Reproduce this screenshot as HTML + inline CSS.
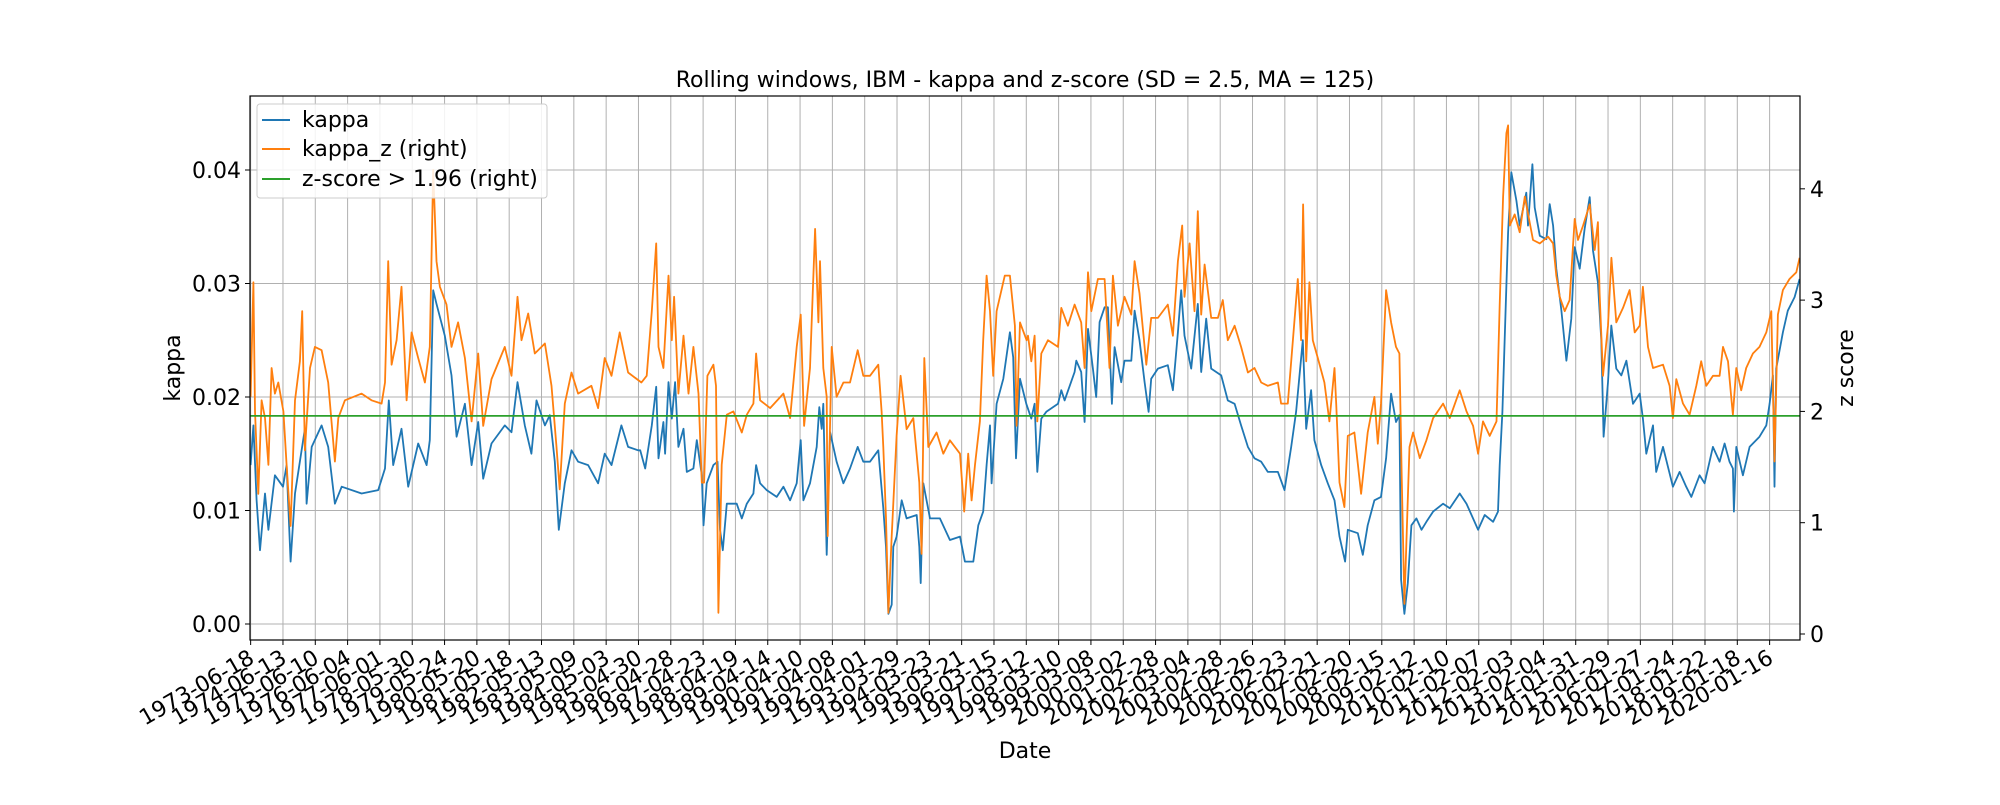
<!DOCTYPE html>
<html><head><meta charset="utf-8"><style>
body{margin:0;background:#fff;}
svg text{font-family:"DejaVu Sans","Liberation Sans",sans-serif;fill:#000;}
</style></head><body>
<svg id="chart" width="2000" height="800" xmlns="http://www.w3.org/2000/svg">
<rect width="2000" height="800" fill="#fff"/>
<g id="grid"></g>
<g id="series"></g>
<g id="axes"></g>
<text x="1025" y="87" font-size="22" text-anchor="middle">Rolling windows, IBM - kappa and z-score (SD = 2.5, MA = 125)</text>
<text x="1025" y="758" font-size="22" text-anchor="middle">Date</text>
<text x="0" y="0" font-size="22" text-anchor="middle" transform="translate(180,368) rotate(-90)">kappa</text>
<text x="0" y="0" font-size="22" text-anchor="middle" transform="translate(1853,368) rotate(-90)">z score</text>
<g>
<rect x="257" y="104" width="290" height="94" rx="3" fill="#fff" fill-opacity="0.85" stroke="#ccc" stroke-width="1"/>
<line x1="262" y1="120" x2="290" y2="120" stroke="#1f77b4" stroke-width="2"/>
<text x="302" y="127" font-size="22">kappa</text>
<line x1="262" y1="149" x2="290" y2="149" stroke="#ff7f0e" stroke-width="2"/>
<text x="302" y="156" font-size="22">kappa_z (right)</text>
<line x1="262" y1="179" x2="290" y2="179" stroke="#2ca02c" stroke-width="2"/>
<text x="302" y="186" font-size="22">z-score &gt; 1.96 (right)</text>
</g>
</svg>
<script>
const tickLabels=["1973-06-18","1974-06-13","1975-06-10","1976-06-04","1977-06-01","1978-05-30","1979-05-24","1980-05-20","1981-05-18","1982-05-13","1983-05-09","1984-05-03","1985-04-30","1986-04-28","1987-04-23","1988-04-19","1989-04-14","1990-04-10","1991-04-08","1992-04-01","1993-03-29","1994-03-23","1995-03-21","1996-03-15","1997-03-12","1998-03-10","1999-03-08","2000-03-02","2001-02-28","2002-03-04","2003-02-28","2004-02-26","2005-02-23","2006-02-21","2007-02-20","2008-02-15","2009-02-12","2010-02-10","2011-02-07","2012-02-03","2013-02-04","2014-01-31","2015-01-29","2016-01-27","2017-01-24","2018-01-22","2019-01-18","2020-01-16"];
const leftTicks=[0,0.01,0.02,0.03,0.04];
const leftTickLabels=["0.00","0.01","0.02","0.03","0.04"];
const rightTicks=[0,1,2,3,4];
const threshold=1.96;
const kappaIdx=[0,21,46,72,111,137,188,250,278,309,343,420,433,472,549,600,652,704,858,987,1039,1069,1103,1167,1219,1296,1361,1386,1412,1438,1502,1554,1593,1657,1709,1760,1799,1863,1966,2018,2064,2121,2172,2211,2276,2314,2353,2384,2430,2482,2533,2610,2688,2739,2791,2868,2920,2997,
3013,3052,3103,3137,3155,3193,3206,3232,3258,3283,3309,3348,3374,3425,3451,3490,3503,3528,3580,3611,3631,3652,3683,3760,3799,3838,3889,3910,3941,3992,4069,4121,4173,4224,4255,4276,4327,4379,4399,4417,4430,4456,4482,4533,4585,4636,4696,4739,4791,4855,4894,4915,4933,4959,4971,4997,5036,5074,5152,5172,5183,5203,5255,5332,5409,5487,5525,5590,5629,5667,5693,5719,5732,5770,5822,5873,5899,5920,5951,
6000,6039,6064,6085,6116,6155,6245,6271,6296,6374,6387,6425,6451,6477,6515,6541,6567,6606,6631,6662,6683,6734,6760,6812,6838,6876,6915,6946,6966,7018,7095,7134,7173,7198,7224,7276,7327,7353,7392,7430,7508,7559,7611,7662,7714,7765,7817,7868,7946,7997,8049,8087,8139,8165,8203,8229,8281,8332,8384,8423,8466,8487,8564,8603,8641,8693,8744,8783,8822,8860,8886,8899,8925,8951,
8979,9018,9057,9095,9147,9224,9276,9353,9405,9495,9546,9611,9649,9662,9683,9709,9727,9752,9791,9817,9868,9881,9915,9933,9972,10023,10049,10075,10100,10139,10178,10216,10242,10281,10319,10358,10384,10422,10448,10466,10500,10525,10564,10603,10642,10693,10745,10770,10796,10848,10873,10925,11002,11054,11105,11144,11208,11247,11311,11363,11402,11440,11466,11474,11492,11543,11595,11672,11724,11750,11775,11788,11801,11853,11891,11943,11982];
const kappaVal=[0.0140,0.0175,0.0109,0.0065,0.0115,0.0083,0.0131,0.0121,0.0140,0.0055,0.0115,0.0172,0.0106,0.0156,0.0175,0.0156,0.0106,0.0121,0.0115,0.0118,0.0137,0.0197,0.0140,0.0172,0.0121,0.0159,0.0140,0.0162,0.0294,0.0282,0.0254,0.0219,0.0165,0.0194,0.0140,0.0178,0.0128,0.0159,0.0175,0.0169,0.0213,0.0175,0.0150,0.0197,0.0175,0.0184,0.0143,0.0083,0.0124,0.0153,0.0143,0.0140,0.0124,0.0150,0.0140,0.0175,0.0156,0.0153,
0.0153,0.0137,0.0175,0.0209,0.0146,0.0178,0.0150,0.0213,0.0181,0.0213,0.0156,0.0172,0.0134,0.0137,0.0162,0.0131,0.0087,0.0124,0.0140,0.0143,0.0083,0.0065,0.0106,0.0106,0.0093,0.0106,0.0115,0.0140,0.0124,0.0118,0.0112,0.0121,0.0109,0.0124,0.0162,0.0109,0.0124,0.0156,0.0191,0.0172,0.0194,0.0061,0.0169,0.0143,0.0124,0.0137,0.0156,0.0143,0.0143,0.0153,0.0102,0.0068,0.0009,0.0017,0.0068,0.0077,0.0109,0.0093,0.0096,0.0068,0.0036,0.0124,0.0093,0.0093,0.0074,0.0077,0.0055,0.0055,0.0087,0.0099,0.0140,0.0175,0.0124,0.0194,0.0216,0.0257,0.0235,0.0146,0.0216,
0.0194,0.0181,0.0194,0.0134,0.0181,0.0187,0.0194,0.0206,0.0197,0.0222,0.0232,0.0222,0.0178,0.0260,0.0225,0.0200,0.0266,0.0279,0.0279,0.0194,0.0244,0.0213,0.0232,0.0232,0.0276,0.0250,0.0213,0.0187,0.0216,0.0225,0.0228,0.0206,0.0257,0.0294,0.0254,0.0225,0.0282,0.0222,0.0269,0.0225,0.0219,0.0197,0.0194,0.0175,0.0156,0.0146,0.0143,0.0134,0.0134,0.0118,0.0156,0.0187,0.0250,0.0172,0.0206,0.0162,0.0140,0.0124,0.0109,0.0077,0.0055,0.0083,0.0080,0.0061,0.0087,0.0109,0.0112,0.0146,0.0203,0.0178,0.0184,0.0039,0.0009,0.0036,
0.0087,0.0093,0.0083,0.0090,0.0099,0.0106,0.0102,0.0115,0.0106,0.0083,0.0096,0.0090,0.0099,0.0140,0.0187,0.0282,0.0345,0.0398,0.0373,0.0351,0.0380,0.0351,0.0405,0.0367,0.0342,0.0339,0.0370,0.0351,0.0313,0.0276,0.0232,0.0269,0.0332,0.0313,0.0348,0.0376,0.0329,0.0301,0.0250,0.0165,0.0213,0.0263,0.0225,0.0219,0.0232,0.0194,0.0203,0.0181,0.0150,0.0175,0.0134,0.0156,0.0121,0.0134,0.0121,0.0112,0.0131,0.0124,0.0156,0.0143,0.0159,0.0143,0.0137,0.0099,0.0156,0.0131,0.0156,0.0165,0.0175,0.0194,0.0219,0.0121,0.0225,0.0257,0.0276,0.0288,0.0304];
const zIdx=[0,21,34,59,85,111,137,162,188,214,253,278,309,343,381,399,420,459,497,549,600,652,678,729,858,935,1013,1039,1064,1090,1129,1167,1206,1245,1296,1348,1386,1412,1438,1464,1515,1554,1605,1657,1709,1760,1799,1863,1966,2018,2064,2095,2147,2198,2276,2327,2366,2391,2430,2482,2533,2636,2688,2739,2791,2855,2920,3023,
3064,3103,3137,3155,3193,3232,3258,3276,3309,3348,3387,3425,3464,3490,3508,3533,3580,3600,3618,3644,3683,3734,3799,3838,3889,3910,3941,4018,4121,4173,4224,4255,4281,4327,4366,4392,4404,4430,4456,4464,4495,4533,4585,4636,4696,4739,4791,4855,4881,4894,4915,4933,4959,4997,5028,5074,5126,5172,5190,5211,5242,5306,5358,5409,5487,5520,5551,5577,5603,5641,5667,5693,5719,5744,5770,5834,5873,5912,5925,5951,6002,
6013,6039,6064,6085,6116,6168,6245,6271,6322,6374,6425,6451,6477,6503,6554,6606,6644,6670,6709,6760,6812,6838,6876,6928,6966,7018,7095,7134,7173,7206,7224,7263,7301,7327,7353,7379,7430,7482,7520,7559,7611,7662,7714,7765,7817,7868,7946,7971,8023,8062,8100,8126,8141,8165,8190,8216,8255,8306,8345,8384,8397,8423,8461,8487,8538,8590,8641,8693,8719,8744,8783,8822,8860,8886,8904,8925,8964,
8992,9044,9095,9147,9224,9276,9353,9405,9456,9495,9533,9585,9637,9662,9688,9714,9727,9740,9778,9817,9856,9920,9972,10036,10075,10100,10126,10165,10203,10242,10268,10307,10358,10397,10422,10435,10461,10500,10526,10564,10616,10667,10706,10745,10770,10809,10848,10925,10976,11002,11028,11080,11131,11183,11221,11260,11312,11363,11389,11428,11453,11466,11492,11530,11569,11621,11672,11724,11763,11788,11814,11853,11904,11956,11982];
const zVal=[2.13,3.16,2.00,1.26,2.10,1.94,1.52,2.39,2.16,2.26,2.00,1.52,0.97,2.10,2.45,2.90,1.65,2.39,2.58,2.55,2.26,1.55,1.94,2.10,2.16,2.10,2.07,2.26,3.35,2.42,2.64,3.12,2.10,2.71,2.48,2.26,2.58,4.17,3.35,3.12,2.96,2.58,2.80,2.48,1.91,2.52,1.87,2.29,2.58,2.32,3.03,2.64,2.88,2.52,2.61,2.23,1.68,1.30,2.07,2.35,2.16,2.23,2.03,2.48,2.32,2.71,2.35,2.26,
2.32,2.90,3.51,2.58,2.39,3.22,2.64,3.03,2.16,2.68,2.16,2.58,2.16,1.36,1.36,2.32,2.42,2.23,0.19,1.52,1.97,2.00,1.81,1.97,2.07,2.52,2.10,2.03,2.16,1.94,2.58,2.87,1.87,2.39,3.64,2.80,3.35,2.39,2.13,0.88,2.58,2.13,2.26,2.26,2.55,2.32,2.32,2.42,2.00,1.68,1.04,0.19,0.88,1.78,2.32,1.84,1.94,1.36,0.72,2.48,1.68,1.81,1.62,1.74,1.62,1.10,1.62,1.20,1.52,1.91,2.64,3.22,2.90,2.32,2.90,3.22,3.22,2.77,1.87,2.80,2.64,
2.68,2.45,2.68,1.91,2.52,2.64,2.58,2.93,2.77,2.96,2.80,2.39,3.25,2.90,3.19,3.19,2.39,3.22,2.77,3.03,2.87,3.35,3.06,2.42,2.84,2.84,2.96,2.68,3.35,3.67,3.03,3.51,2.90,3.80,2.87,3.32,2.84,2.84,3.00,2.64,2.77,2.58,2.35,2.39,2.26,2.23,2.26,2.07,2.07,2.64,3.19,2.64,3.86,2.45,3.16,2.64,2.48,2.26,1.91,2.39,2.07,1.36,1.14,1.78,1.81,1.26,1.81,2.13,1.71,2.07,3.09,2.80,2.58,2.52,1.42,0.27,1.68,
1.81,1.58,1.74,1.94,2.07,1.94,2.19,2.00,1.87,1.62,1.91,1.78,1.91,2.96,3.93,4.50,4.57,3.67,3.77,3.61,3.93,3.54,3.51,3.57,3.51,3.22,3.03,2.90,3.00,3.73,3.54,3.67,3.86,3.45,3.70,3.06,2.32,2.77,3.38,2.80,2.93,3.09,2.71,2.77,3.12,2.58,2.39,2.42,2.23,1.94,2.29,2.07,1.97,2.23,2.45,2.23,2.32,2.32,2.58,2.45,2.13,1.97,2.39,2.19,2.39,2.52,2.58,2.71,2.90,1.55,2.87,3.09,3.19,3.25,3.38];

const PL=250,PR=1800,PT=96,PB=640;
const XMIN=-5,XMAX=11985,KMIN=-0.00141,KMAX=0.04652,ZMIN=-0.054,ZMAX=4.834;
const NS="http://www.w3.org/2000/svg";
function xs(i){return PL+(i-XMIN)/(XMAX-XMIN)*(PR-PL);}
function yk(v){return PB-(v-KMIN)/(KMAX-KMIN)*(PB-PT);}
function yz(v){return PB-(v-ZMIN)/(ZMAX-ZMIN)*(PB-PT);}
function mk(tag,attrs,parent){const e=document.createElementNS(NS,tag);for(const k in attrs)e.setAttribute(k,attrs[k]);parent.appendChild(e);return e;}
const grid=document.getElementById('grid'),axes=document.getElementById('axes'),series=document.getElementById('series');
tickLabels.forEach((lab,i)=>{
  const x=xs(i*250);
  const g=mk('line',{x1:x,x2:x,y1:PT,y2:PB,stroke:'#b0b0b0','stroke-width':1},grid);
  
  
  const t=mk('line',{x1:x,x2:x,y1:PB,y2:PB+5,stroke:'#000','stroke-width':1},axes);
  
  
  const tx=mk('text',{x:0,y:0,'font-size':22,'text-anchor':'end',transform:`translate(${x+5},${PB+22}) rotate(-30)`},axes);
  tx.textContent=lab;
  
  
});
leftTicks.forEach((v,i)=>{
  const y=yk(v);
  const g=mk('line',{x1:PL,x2:PR,y1:y,y2:y,stroke:'#b0b0b0','stroke-width':1},grid);
  
  
  mk('line',{x1:PL-5,x2:PL,y1:y,y2:y,stroke:'#000'},axes);
  const tx=mk('text',{x:PL-9,y:y+8,'font-size':22,'text-anchor':'end'},axes);
  tx.textContent=leftTickLabels[i];
  
  
});
rightTicks.forEach(v=>{
  const y=yz(v);
  mk('line',{x1:PR,x2:PR+5,y1:y,y2:y,stroke:'#000'},axes);
  const tx=mk('text',{x:PR+10,y:y+8,'font-size':22},axes);
  tx.textContent=String(v);
  
  
});
function path(idx,val,yf,color,name){
  let d='';for(let i=0;i<idx.length;i++){d+=(i?'L':'M')+xs(idx[i]).toFixed(1)+','+yf(val[i]).toFixed(1);}
  const p=mk('path',{d:d,fill:'none',stroke:color,'stroke-width':1.8,'stroke-linejoin':'round'},series);
  
  
}
path(kappaIdx,kappaVal,yk,'#1f77b4','kappa-line');
path(zIdx,zVal,yz,'#ff7f0e','kappa-z-line');
const th=mk('line',{x1:PL,x2:PR,y1:yz(threshold),y2:yz(threshold),stroke:'#2ca02c','stroke-width':1.8},series);


const fr=mk('rect',{x:PL,y:PT,width:PR-PL,height:PB-PT,fill:'none',stroke:'#000','stroke-width':1.2},axes);


</script>
</body></html>
